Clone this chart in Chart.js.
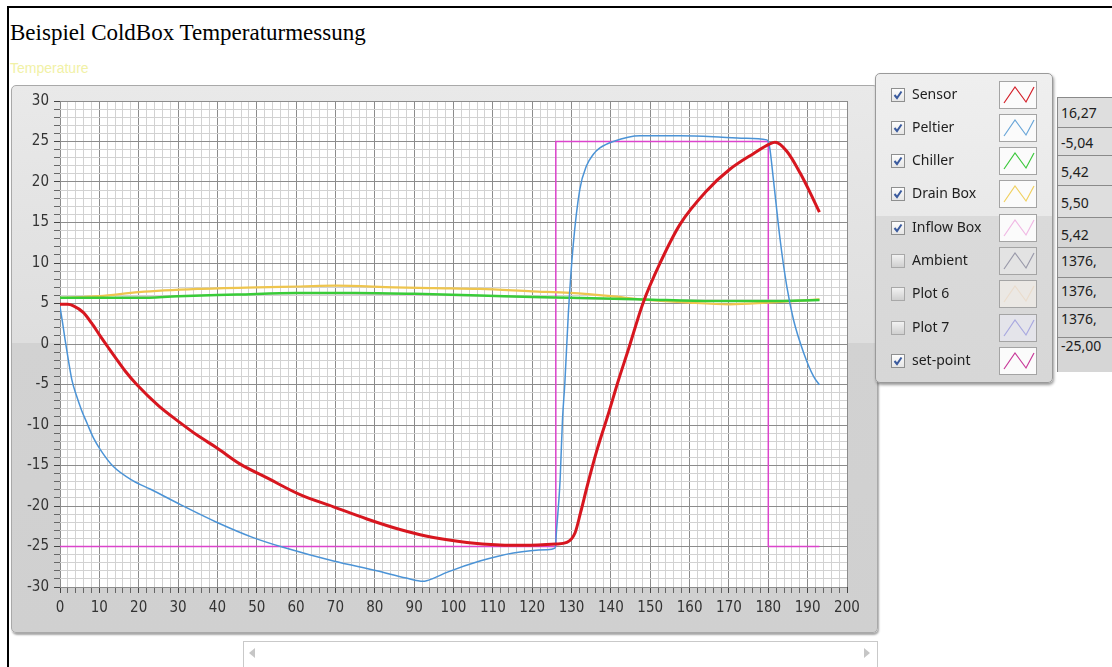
<!DOCTYPE html>
<html><head><meta charset="utf-8">
<script src="https://cdn.jsdelivr.net/npm/chart.js@4.4.1/dist/chart.umd.min.js"></script>
<style>
html,body{margin:0;padding:0;background:#fff;width:1112px;height:667px;overflow:hidden;position:relative}
#frame{position:absolute;left:7px;top:6px;width:1200px;height:800px;border-left:2px solid #000;border-top:2px solid #000}
#title{position:absolute;left:10px;top:21px;font:23px/23px 'Liberation Serif','Times New Roman',serif;color:#000;white-space:nowrap}
#sub{position:absolute;left:10px;top:61px;font:14px/14px 'Liberation Sans',Arial,sans-serif;color:#f1f1a6;white-space:nowrap}
#panel{position:absolute;left:11px;top:85px;width:865px;height:546px;border:1px solid #a9a9a9;border-radius:5px;
 background:linear-gradient(#e9e9e9 0%,#dedede 47%,#d2d2d2 47%,#d0d0d0 100%);box-shadow:1px 2px 2px rgba(0,0,0,.35)}
#c{position:absolute;left:12px;top:85px}
#legend{position:absolute;left:875px;top:73px;width:176px;height:308px;border:1px solid #9a9a9a;border-radius:5px;
 background:linear-gradient(#efefef 0%,#e9e9e9 46%,#dadada 46%,#d7d7d7 100%);box-shadow:1px 2px 3px rgba(0,0,0,.4)}
.cb{position:absolute;left:891px;width:12px;height:12px;border:1px solid #8e8f8f;background:linear-gradient(#fdfdfd,#e6e6e6)}
.cb.off{background:linear-gradient(#f2f2f2,#cfcfcf);border-color:#a8a8a8}
.lbl{position:absolute;left:912px;font:14px/16px 'Noto Sans','Open Sans',sans-serif;color:#1e1e1e;white-space:nowrap}
.sw{position:absolute;left:999px;width:36px;height:26px;border:1px solid #a4a4a4;background:#fbfbfb}
.rd{position:absolute;left:1057px;width:80px;border-top:1px solid #8a8a8a;border-left:1px solid #8a8a8a;background:#dedede;
 font:14px/16px 'Noto Sans','Open Sans',sans-serif;color:#202020;white-space:nowrap;box-sizing:border-box;padding-left:3px}
#scroll{position:absolute;left:243px;top:641px;width:633px;height:40px;border:1px solid #c9c9c9;background:#fff}
.arrL{position:absolute;left:249px;top:648px;width:0;height:0;border-top:5px solid transparent;border-bottom:5px solid transparent;border-right:6px solid #c6c6c6}
.arrR{position:absolute;left:864px;top:648px;width:0;height:0;border-top:5px solid transparent;border-bottom:5px solid transparent;border-left:6px solid #c6c6c6}
</style></head>
<body>
<div id="frame"></div>
<div id="title">Beispiel ColdBox Temperaturmessung</div>
<div id="sub">Temperature</div>
<div id="panel"></div>
<canvas id="c" width="866" height="548"></canvas>
<div id="legend"></div>
<div id="scroll"></div><div class="arrL"></div><div class="arrR"></div>
<script>
// ---- data ----
const sensorTime = [0, 2, 3.4, 5.9, 8, 10.2, 12.5, 14.4, 16.5, 19.5, 25, 30.5, 35, 39.8, 45.7, 52.5, 61, 69.5, 78, 86.4, 94.9, 103.4, 111.8, 118, 126, 128.8, 130.9, 132.3, 134, 136.4, 139.3, 141.9, 144.3, 148.2, 152.5, 157.6, 164.3, 170.3, 176.2, 180.4, 181.7, 184.7, 188.1, 191.5, 193];
const sensorTemp = [4.9, 4.9, 4.7, 3.9, 2.6, 1.0, -0.6, -1.9, -3.3, -5.0, -7.6, -9.7, -11.3, -12.8, -14.8, -16.5, -18.6, -20.1, -21.6, -22.9, -23.9, -24.5, -24.8, -24.85, -24.7, -24.5, -23.3, -20.8, -17.5, -13.2, -8.7, -4.5, -0.9, 5.1, 10.0, 14.8, 18.9, 21.6, 23.5, 24.7, 24.9, 23.8, 21.1, 17.8, 16.27];

const peltierTime = [0, 0.6, 1.3, 2.2, 3.0, 4.2, 5.5, 6.8, 8.5, 10.2, 13.5, 18.6, 22.9, 30.5, 39.8, 49.1, 56.7, 69.5, 80.5, 88, 92.3, 95, 98.3, 106.7, 115.2, 123.7, 125.8, 126.2, 127.1, 127.7, 128.3, 129.2, 130.4, 132.1, 133.8, 135.5, 137.2, 140.6, 147.4, 157.6, 166, 174, 179.6, 180.3, 181.3, 183, 184.7, 186.4, 189, 191.5, 193];
const peltierTemp = [4.6, 2.8, 0.5, -2.2, -4.4, -6.4, -8.2, -9.7, -11.6, -13.0, -15.1, -16.9, -17.9, -19.8, -22.0, -23.9, -25.1, -26.8, -28.0, -28.9, -29.3, -28.9, -28.2, -26.8, -25.8, -25.4, -25.2, -22.9, -16.7, -9.3, -4.8, 3.9, 12.1, 19.1, 22.0, 23.4, 24.2, 25.0, 25.7, 25.7, 25.6, 25.4, 25.2, 24.4, 20.3, 12.9, 7.1, 3.0, -1.1, -4.0, -5.04];

const chillerTime = [0, 20, 30, 45, 60, 75, 90, 106.7, 120, 129.6, 148, 166, 180, 193];
const chillerTemp = [5.7, 5.7, 5.9, 6.1, 6.3, 6.3, 6.2, 6.0, 5.8, 5.7, 5.5, 5.3, 5.3, 5.42];

const drainTime = [0, 10, 20, 35, 50, 61, 70, 85, 95, 106.7, 120, 129.6, 140, 148, 160, 170.3, 179.6, 193];
const drainTemp = [5.7, 5.9, 6.4, 6.8, 7.0, 7.1, 7.2, 7.0, 6.9, 6.8, 6.5, 6.3, 5.9, 5.5, 5.1, 4.9, 5.1, 5.5];

const inflowTime = [0, 60, 106.7, 148, 193];
const inflowTemp = [5.6, 6.2, 5.9, 5.45, 5.42];

const setpointTime = [0, 126, 126, 180, 180, 193];
const setpointTemp = [-25, -25, 25, 25, -25, -25];

const legendNames = ['Sensor', 'Peltier', 'Chiller', 'Drain Box', 'Inflow Box', 'Ambient', 'Plot 6', 'Plot 7', 'set-point'];
const legendChecked = [true, true, true, true, true, false, false, false, true];
const legendColors = ['#d4202a', '#6aa6d8', '#3cc83c', '#f0d060', '#f0b8e4', '#9a9aaa', '#eadccc', '#a8a8e0', '#c83a9a'];
const readoutValues = ['16,27', '-5,04', '5,42', '5,50', '5,42', '1376,', '1376,', '1376,', '-25,00'];

const xTickStep = 2, yTickStep = 1;
const xMajor = 10, yMajor = 5;

// ---- legend (HTML) ----
const rowTop0 = 94.5, rowGap = 33.3;
const swBg = ['#fbfbfb','#fbfbfb','#fbfbfb','#fbfbfb','#fbfbfb','#e3e3e3','#ebe8e4','#e4e4ea','#fbfbfb'];
legendNames.forEach((name, i) => {
  const cy = rowTop0 + rowGap * i;
  const cb = document.createElement('div');
  cb.className = 'cb' + (legendChecked[i] ? '' : ' off');
  cb.style.top = (cy - 7) + 'px';
  if (legendChecked[i]) {
    cb.innerHTML = '<svg width="12" height="12" style="position:absolute;left:0;top:0"><polyline points="2.5,6 5,9 9.5,2.5" fill="none" stroke="#3b5b9e" stroke-width="2"/></svg>';
  }
  document.body.appendChild(cb);
  const lb = document.createElement('div');
  lb.className = 'lbl'; lb.textContent = name; lb.style.top = (cy - 9) + 'px';
  document.body.appendChild(lb);
  const sw = document.createElement('div');
  sw.className = 'sw'; sw.style.top = (cy - 14) + 'px'; sw.style.background = swBg[i];
  sw.innerHTML = '<svg width="36" height="26"><polyline points="4,21 15,5 26,20 34,5" fill="none" stroke="' + legendColors[i] + '" stroke-width="1.2"/></svg>';
  document.body.appendChild(sw);
});
const rdTops = [97, 127, 155, 185, 217, 247, 277, 307, 337, 372];
const rdText = [7, 7, 8, 9, 9, 5, 5, 3, 0];
readoutValues.forEach((v, i) => {
  const d = document.createElement('div');
  d.className = 'rd'; d.textContent = v;
  d.style.top = rdTops[i] + 'px';
  d.style.height = (rdTops[i + 1] - rdTops[i]) + 'px';
  d.style.paddingTop = rdText[i] + 'px';
  if (i >= 4) d.style.background = '#d6d6d6';
  document.body.appendChild(d);
});

// ---- chart ----
const pts = (t, v) => t.map((x, i) => ({x: x, y: v[i]}));
const mkSet = (label, t, v, color, width, smooth) => ({label, data: pts(t, v), borderColor: color, borderWidth: width,
  pointRadius: 0, tension: smooth ? 0.4 : 0, cubicInterpolationMode: smooth ? 'monotone' : 'default', fill: false});

const whiteArea = {
  id: 'whiteArea',
  beforeDraw(chart) {
    const a = chart.chartArea, c = chart.ctx;
    c.save(); c.fillStyle = '#ffffff'; c.fillRect(a.left, a.top, a.right - a.left, a.bottom - a.top); c.restore();
  }
};
const tickFont = {family: "'Liberation Sans Narrow','DejaVu Sans Condensed','Roboto',sans-serif", size: 15};

new Chart(document.getElementById('c'), {
  type: 'line',
  data: {
    datasets: [
      mkSet('Sensor', sensorTime, sensorTemp, '#d7161f', 3, true),
      mkSet('Peltier', peltierTime, peltierTemp, '#4b93d6', 1.5, true),
      mkSet('Chiller', chillerTime, chillerTemp, '#38cc38', 2.5, true),
      mkSet('Drain Box', drainTime, drainTemp, '#eec54e', 2.2, true),
      mkSet('Inflow Box', inflowTime, inflowTemp, '#f2bde6', 1, true),
      mkSet('set-point', setpointTime, setpointTemp, '#dc44cc', 1.5, false)
    ]
  },
  options: {
    responsive: false, animation: false, events: [],
    layout: {padding: {left: 0, right: 31, top: 16, bottom: 16}},
    plugins: {legend: {display: false}, tooltip: {enabled: false}, title: {display: false}},
    scales: {
      x: {
        type: 'linear', min: 0, max: 200,
        afterFit: s => { s.height = 30; },
        border: {display: false},
        ticks: {stepSize: xTickStep, autoSkip: false, maxRotation: 0, padding: 6, color: '#333',
          font: tickFont, callback: v => (v % xMajor === 0 ? String(v) : '')},
        grid: {tickLength: 6,
          color: c => (c.tick && c.tick.value % xMajor === 0 ? '#8c8c8c' : '#d2d2d2'),
          tickColor: c => (c.tick && c.tick.value % xMajor === 0 ? '#444' : '#666')}
      },
      y: {
        type: 'linear', min: -30, max: 30,
        afterFit: s => { s.width = 48; },
        border: {display: false},
        ticks: {stepSize: yTickStep, autoSkip: false, padding: 5, color: '#333',
          font: tickFont, callback: v => (v % yMajor === 0 ? String(v) : '')},
        grid: {tickLength: 6,
          color: c => (c.tick && c.tick.value % yMajor === 0 ? '#8c8c8c' : '#d2d2d2'),
          tickColor: c => (c.tick && c.tick.value % yMajor === 0 ? '#444' : '#666')}
      }
    }
  },
  plugins: [whiteArea]
});
</script>
</body></html>
